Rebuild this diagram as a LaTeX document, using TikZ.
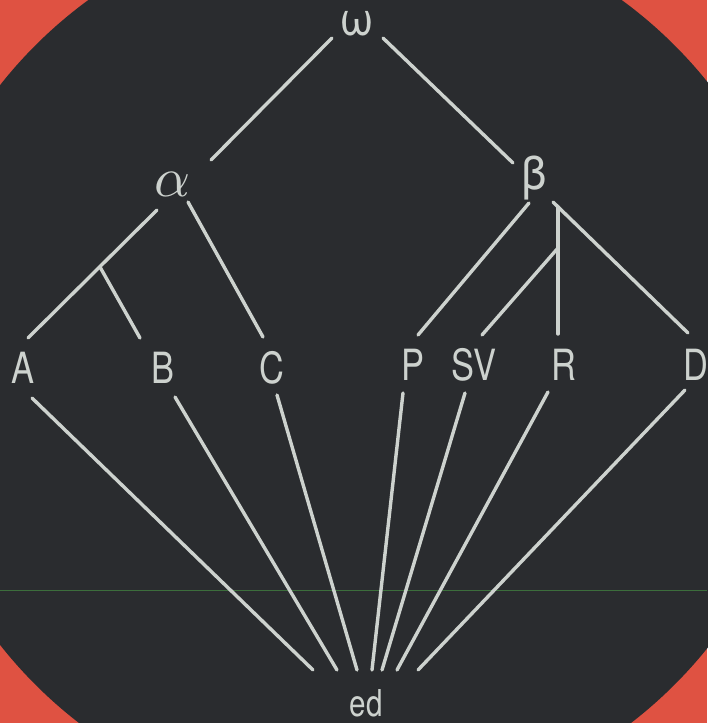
\documentclass[tikz,border=0pt]{standalone}
\usepackage{fontspec}
\newfontfamily\labfont[FakeStretch=0.8]{TeX Gyre Heros}
\newfontfamily\grkfont{TeX Gyre Heros}
\definecolor{bgred}{HTML}{DF5242}
\definecolor{bgdark}{HTML}{2A2C2F}
\definecolor{ink}{HTML}{CDD2CE}
\definecolor{scanline}{HTML}{3C6E3C}
\begin{document}
\begin{tikzpicture}[x=1pt,y=-1pt,
  lab/.style={text=ink,inner sep=0pt,font=\labfont\fontsize{43}{43}\selectfont},
  grk/.style={text=ink,inner sep=0pt,font=\grkfont\fontsize{46}{46}\selectfont},
  edge/.style={draw=ink,line width=3.4pt,line cap=round}]
\useasboundingbox (0,0) rectangle (707,723);
\fill[bgred] (0,0) rectangle (707,723);
\fill[bgdark] (355,365) circle (452);
\draw[scanline,line width=0.8pt] (0,590) -- (707,590);
% labels
\node[grk,anchor=base,text height=24pt,text depth=0pt] (om) at (357,35) {ω};
\node[text=ink,inner sep=0pt] (al) at (173,184) {\scalebox{5.6}{$\alpha$}};
\node[grk] (be) at (534,178) {β};
\node[lab] (A) at (23,368) {A};
\node[lab] (B) at (163,368) {B};
\node[lab] (C) at (272,368) {C};
\node[lab] (P) at (413,365) {P};
\node[lab] (SV) at (474,365) {SV};
\node[lab] (R) at (564,365) {R};
\node[lab] (D) at (696,365) {D};
\node[lab,font=\labfont\fontsize{37}{37}\selectfont,anchor=base,text depth=0pt] (ed) at (366,716) {ed};
% connector end points
\coordinate (om-l) at (332,38);
\coordinate (om-r) at (383,38);
\coordinate (al-t) at (211,160);
\coordinate (be-t) at (513,163);
\coordinate (al-a) at (157,210);
\coordinate (al-c) at (188,202);
\coordinate (ab) at (100,267);
\coordinate (A-t) at (28,338);
\coordinate (B-t) at (140,338);
\coordinate (C-t) at (263,337);
\coordinate (be-p) at (529,203);
\coordinate (be-d) at (553,202);
\coordinate (br) at (558,207);
\coordinate (bs) at (558,248);
\coordinate (P-t) at (418,335);
\coordinate (SV-t) at (482,335);
\coordinate (R-t) at (558,334);
\coordinate (D-t) at (688,333);
\coordinate (A-b) at (32,398);
\coordinate (B-b) at (175,397);
\coordinate (C-b) at (277,395);
\coordinate (P-b) at (403,393);
\coordinate (SV-b) at (465,393);
\coordinate (R-b) at (548,392);
\coordinate (D-b) at (685,390);
\coordinate (ed-1) at (313,670);
\coordinate (ed-2) at (337,670);
\coordinate (ed-3) at (357,670);
\coordinate (ed-4) at (372,670);
\coordinate (ed-5) at (382,670);
\coordinate (ed-6) at (397,670);
\coordinate (ed-7) at (418,670);
% tree
\draw[edge] (om-l) -- (al-t);
\draw[edge] (om-r) -- (be-t);
\draw[edge] (al-a) -- (A-t);
\draw[edge] (ab) -- (B-t);
\draw[edge] (al-c) -- (C-t);
\draw[edge] (be-p) -- (P-t);
\draw[edge] (be-d) -- (D-t);
\draw[edge] (br) -- (R-t);
\draw[edge] (bs) -- (SV-t);
% fan to ed
\draw[edge] (A-b) -- (ed-1);
\draw[edge] (B-b) -- (ed-2);
\draw[edge] (C-b) -- (ed-3);
\draw[edge] (P-b) -- (ed-4);
\draw[edge] (SV-b) -- (ed-5);
\draw[edge] (R-b) -- (ed-6);
\draw[edge] (D-b) -- (ed-7);
\end{tikzpicture}
\end{document}
